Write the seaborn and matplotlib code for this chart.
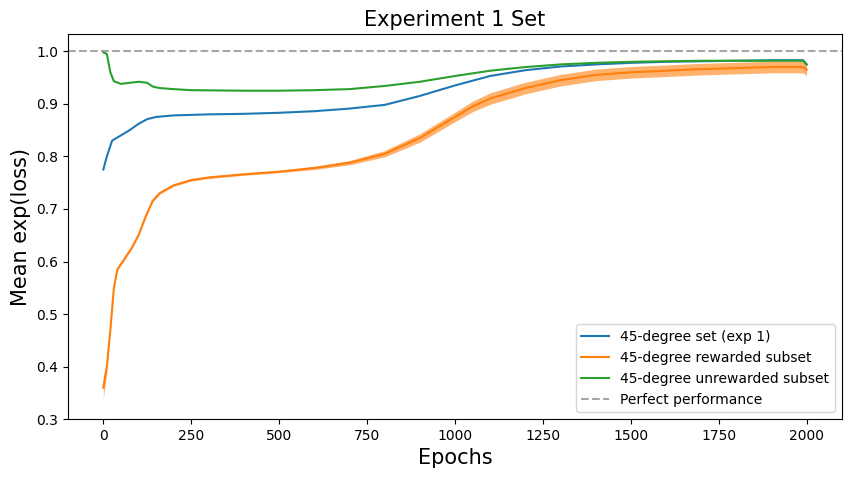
import matplotlib
matplotlib.use("Agg")
import matplotlib.pyplot as plt
import seaborn as sns
import pandas as pd
import numpy as np

blue_x = [0,10,25,50,75,100,125,150,200,300,400,500,600,700,800,900,1000,1100,1200,1300,1400,1500,1600,1700,1800,1900,1990,2000]
blue_y = [0.775,0.80,0.83,0.84,0.85,0.862,0.871,0.875,0.878,0.880,0.881,0.883,0.886,0.891,0.898,0.915,0.935,0.953,0.964,0.971,0.975,0.978,0.980,0.981,0.982,0.983,0.983,0.975]
orange_x = [0,10,20,30,40,60,80,100,120,140,160,200,250,300,400,500,600,700,800,900,1000,1050,1100,1200,1300,1400,1500,1600,1700,1800,1900,1990,2000]
orange_y = [0.36,0.40,0.47,0.55,0.585,0.605,0.625,0.65,0.685,0.715,0.73,0.745,0.755,0.76,0.766,0.771,0.778,0.788,0.805,0.835,0.875,0.895,0.91,0.93,0.945,0.955,0.96,0.963,0.966,0.968,0.97,0.97,0.965]
orange_band = [0.02,0.01,0.005,0.003,0.002,0.002,0.002,0.002,0.002,0.002,0.002,0.002,0.002,0.002,0.002,0.002,0.003,0.004,0.006,0.008,0.009,0.010,0.011,0.011,0.011,0.011,0.011,0.011,0.011,0.011,0.011,0.011,0.012]
green_x = [0,10,20,30,50,75,100,125,140,160,200,250,400,500,600,700,800,900,1000,1100,1200,1300,1400,1500,1600,1700,1800,1900,1990,2000]
green_y = [0.998,0.995,0.96,0.943,0.938,0.940,0.942,0.940,0.933,0.930,0.928,0.926,0.925,0.925,0.926,0.928,0.934,0.942,0.953,0.963,0.970,0.975,0.978,0.980,0.981,0.982,0.982,0.982,0.982,0.975]

labels = ["45-degree set (exp 1)", "45-degree rewarded subset", "45-degree unrewarded subset"]
df = pd.concat([
    pd.DataFrame({"Epochs": blue_x, "val": blue_y, "s": labels[0]}),
    pd.DataFrame({"Epochs": orange_x, "val": orange_y, "s": labels[1]}),
    pd.DataFrame({"Epochs": green_x, "val": green_y, "s": labels[2]}),
])

fig, ax = plt.subplots(figsize=(8.52, 4.78), dpi=100)
fig.subplots_adjust(left=0.08, right=0.988, top=0.929, bottom=0.123)
pal = ["#1f77b4", "#ff7f0e", "#2ca02c"]
sns.lineplot(data=df, x="Epochs", y="val", hue="s", palette=pal, ax=ax, linewidth=1.5)
ob = np.array(orange_band); oy = np.array(orange_y)
ax.fill_between(orange_x, oy - ob, oy + ob, color=pal[1], alpha=0.6, linewidth=0)
ax.axhline(1.0, color="gray", linestyle="--", alpha=0.7, label="Perfect performance")
ax.set_xlim(-100, 2100)
ax.set_ylim(0.3, 1.033)
ax.set_title("Experiment 1 Set", fontsize=15)
ax.set_xlabel("Epochs", fontsize=15)
ax.set_ylabel("Mean exp(loss)", fontsize=15)
h, l = ax.get_legend_handles_labels()
ax.legend(h, l, loc="lower right", fontsize=10)
fig.savefig("out.png", dpi=100)
